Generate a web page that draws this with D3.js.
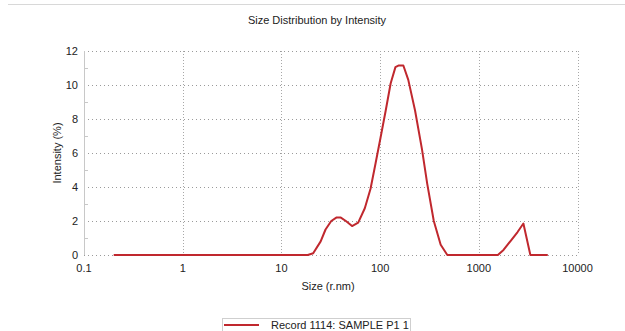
<!DOCTYPE html>
<html>
<head>
<meta charset="utf-8">
<script src="https://cdn.jsdelivr.net/npm/d3@7/dist/d3.min.js"></script>
<style>
  html, body { margin: 0; padding: 0; background: #fff; }
  svg { display: block; font-family: "Liberation Sans", Arial, sans-serif; }
</style>
</head>
<body>
<svg id="chart" width="625" height="331"></svg>
<script>
// Size distribution by intensity (DLS record)
const sizes = [0.2, 18.5, 21, 25, 28, 32, 36, 40, 45, 52, 60, 70, 80, 90, 101, 114, 128, 143, 155, 172, 193, 226, 266, 300, 350, 411, 480,
               1560, 1780, 2115, 2470, 2830, 3330, 5000];
const intensity = [0, 0, 0.1, 0.8, 1.5, 2.0, 2.2, 2.2, 2.0, 1.7, 1.9, 2.75, 3.9, 5.4, 6.9, 8.5, 10.1, 11.05, 11.15, 11.15, 10.3, 8.5, 6.2, 4.2, 2.0, 0.6, 0,
                   0, 0.3, 0.85, 1.35, 1.85, 0, 0];
const xTicks = [0.1, 1, 10, 100, 1000, 10000];
const xTickLabels = ["0.1", "1", "10", "100", "1000", "10000"];
const yTicks = [0, 2, 4, 6, 8, 10, 12];
const yMinorTicks = [1, 3, 5, 7, 9, 11];
const seriesName = "Record 1114: SAMPLE P1 1";

const svg = d3.select("#chart");
const m = { left: 84, right: 577.5, top: 51, bottom: 255 };

const x = d3.scaleLog().domain([0.1, 10000]).range([m.left, m.right]);
const y = d3.scaleLinear().domain([0, 12]).range([m.bottom, m.top]);

// header rule
svg.append("line").attr("x1", 8).attr("x2", 625).attr("y1", 4.5).attr("y2", 4.5)
  .attr("stroke", "#d8d8d8").attr("stroke-width", 1);

// title
svg.append("text").attr("x", 317).attr("y", 24).attr("text-anchor", "middle")
  .attr("font-size", 11).attr("fill", "#222").text("Size Distribution by Intensity");

// horizontal grid
svg.append("g").selectAll("line").data(yTicks).join("line")
  .attr("x1", m.left).attr("x2", m.right)
  .attr("y1", d => Math.round(y(d)) + 0.5).attr("y2", d => Math.round(y(d)) + 0.5)
  .attr("stroke", "#9a9a9a").attr("stroke-width", 1).attr("stroke-dasharray", "1,3");

// vertical grid
svg.append("g").selectAll("line").data(xTicks.slice(1)).join("line")
  .attr("x1", d => Math.round(x(d)) + 0.5).attr("x2", d => Math.round(x(d)) + 0.5)
  .attr("y1", m.top).attr("y2", m.bottom)
  .attr("stroke", "#a8a8a8").attr("stroke-width", 1).attr("stroke-dasharray", "1,2");

// y axis line and minor ticks
svg.append("line").attr("x1", m.left + 0.5).attr("x2", m.left + 0.5)
  .attr("y1", m.top).attr("y2", m.bottom).attr("stroke", "#c8c8c8");
svg.append("g").selectAll("line").data(yMinorTicks).join("line")
  .attr("x1", m.left).attr("x2", m.left + 4)
  .attr("y1", d => Math.round(y(d)) + 0.5).attr("y2", d => Math.round(y(d)) + 0.5)
  .attr("stroke", "#c8c8c8");

// y tick labels
svg.append("g").selectAll("text").data(yTicks).join("text")
  .attr("x", m.left - 6).attr("y", d => y(d) + 4)
  .attr("text-anchor", "end").attr("font-size", 11).attr("fill", "#222")
  .text(d => d);

// x tick labels
svg.append("g").selectAll("text").data(xTicks).join("text")
  .attr("x", d => x(d)).attr("y", 272)
  .attr("text-anchor", "middle").attr("font-size", 11).attr("fill", "#222")
  .text((d, i) => xTickLabels[i]);

// axis titles
svg.append("text").attr("x", 328).attr("y", 290).attr("text-anchor", "middle")
  .attr("font-size", 11).attr("fill", "#222").text("Size (r.nm)");
svg.append("text").attr("transform", "translate(61,153) rotate(-90)")
  .attr("text-anchor", "middle").attr("font-size", 11).attr("fill", "#222").text("Intensity (%)");

// distribution curve
const pts = sizes.map((s, i) => [s, intensity[i]]);
svg.append("path").datum(pts)
  .attr("fill", "none").attr("stroke", "#c0282e").attr("stroke-width", 2)
  .attr("stroke-linejoin", "round")
  .attr("d", d3.line().x(d => x(d[0])).y(d => y(d[1])));

// legend
svg.append("rect").attr("x", 222.5).attr("y", 318.5).attr("width", 188).attr("height", 30)
  .attr("fill", "#fff").attr("stroke", "#cfcfcf");
svg.append("line").attr("x1", 224).attr("x2", 259).attr("y1", 325).attr("y2", 325)
  .attr("stroke", "#c0282e").attr("stroke-width", 2);
svg.append("text").attr("x", 271).attr("y", 329).attr("font-size", 11).attr("fill", "#222").text(seriesName);
</script>
</body>
</html>
